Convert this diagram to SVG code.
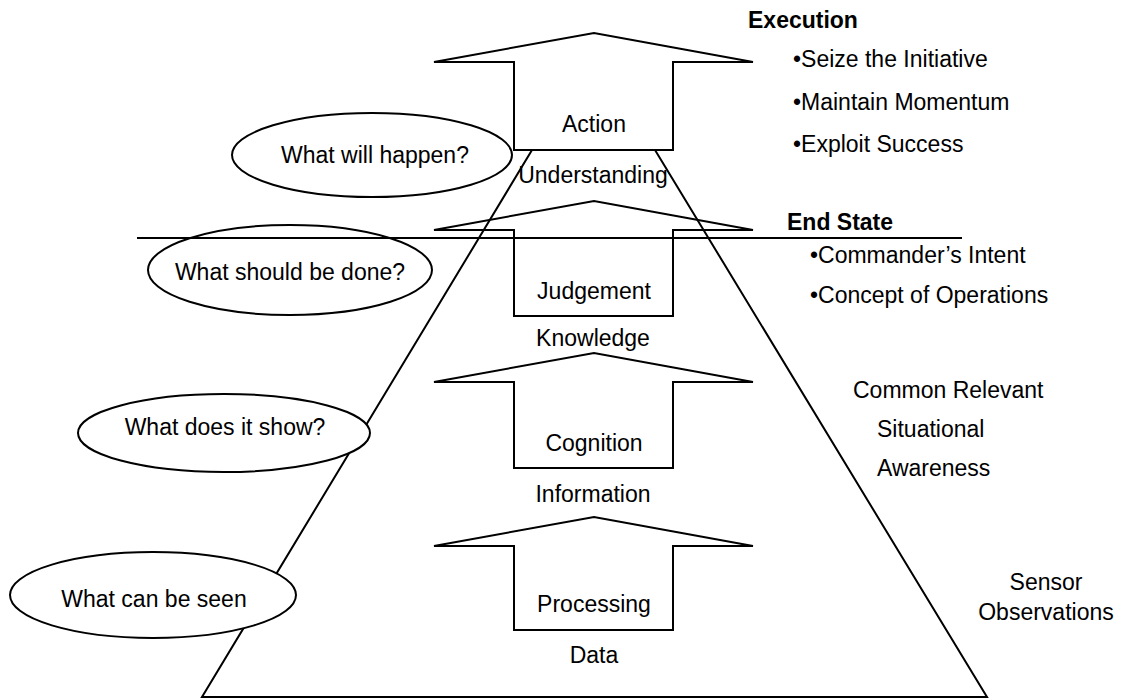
<svg xmlns="http://www.w3.org/2000/svg" width="1126" height="698" viewBox="0 0 1126 698">
  <style>
    .ln { fill: none; stroke: #000; stroke-width: 2; stroke-linejoin: miter; }
    .arrow { fill: none; stroke: #000; stroke-width: 2; stroke-linejoin: miter; }
    .ell { fill: #fff; stroke: #000; stroke-width: 2; }
    text { font-family: "Liberation Sans", Arial, sans-serif; font-size: 23px; fill: #000; }
    .c { text-anchor: middle; }
    .b { font-weight: bold; }
  </style>
  <rect x="0" y="0" width="1126" height="698" fill="#fff"/>

  <g id="connectors">
    <polyline class="ln" points="532,150 202,697 987,697 655,150"/>
  </g>

  <g id="arrow-action">
    <path class="arrow" d="M434,62 L594,33 L753,62 L673,62 L673,150 L514,150 L514,62 Z"/>
    <text class="c" x="594" y="132">Action</text>
  </g>
  <g id="arrow-judgement">
    <path class="arrow" d="M434,230 L594,201 L753,230 L673,230 L673,316 L514,316 L514,230 Z"/>
    <text class="c" x="594" y="299">Judgement</text>
  </g>
  <g id="arrow-cognition">
    <path class="arrow" d="M434,382 L594,353 L753,382 L673,382 L673,468 L514,468 L514,382 Z"/>
    <text class="c" x="594" y="451">Cognition</text>
  </g>
  <g id="arrow-processing">
    <path class="arrow" d="M434,546 L594,517 L753,546 L673,546 L673,630 L514,630 L514,546 Z"/>
    <text class="c" x="594" y="612">Processing</text>
  </g>

  <g id="level-understanding"><text class="c" x="593" y="183">Understanding</text></g>
  <g id="level-knowledge"><text class="c" x="593" y="346">Knowledge</text></g>
  <g id="level-information"><text class="c" x="593" y="502">Information</text></g>
  <g id="level-data"><text class="c" x="594" y="663">Data</text></g>

  <g id="q-happen">
    <ellipse class="ell" cx="372" cy="155" rx="140" ry="42"/>
    <text class="c" x="375" y="163">What will happen?</text>
  </g>
  <g id="q-done">
    <ellipse class="ell" cx="290" cy="270" rx="142" ry="45"/>
    <text class="c" x="290" y="280">What should be done?</text>
  </g>
  <g id="q-show">
    <ellipse class="ell" cx="224" cy="433" rx="146" ry="39"/>
    <text class="c" x="225" y="435">What does it show?</text>
  </g>
  <g id="q-seen">
    <ellipse class="ell" cx="153" cy="595" rx="143" ry="43"/>
    <text class="c" x="154" y="607">What can be seen</text>
  </g>

  <g id="divider">
    <line class="ln" x1="137" y1="238" x2="962" y2="238"/>
  </g>

  <g id="execution">
    <text class="b" x="748" y="28">Execution</text>
    <text x="793" y="67">•Seize the Initiative</text>
    <text x="793" y="110">•Maintain Momentum</text>
    <text x="793" y="152">•Exploit Success</text>
  </g>
  <g id="end-state">
    <text class="b" x="787" y="230">End State</text>
    <text x="810" y="263">•Commander’s Intent</text>
    <text x="810" y="303">•Concept of Operations</text>
  </g>
  <g id="awareness">
    <text x="853" y="398">Common Relevant</text>
    <text x="877" y="437">Situational</text>
    <text x="877" y="476">Awareness</text>
  </g>
  <g id="sensor">
    <text class="c" x="1046" y="590">Sensor</text>
    <text class="c" x="1046" y="620">Observations</text>
  </g>
</svg>
